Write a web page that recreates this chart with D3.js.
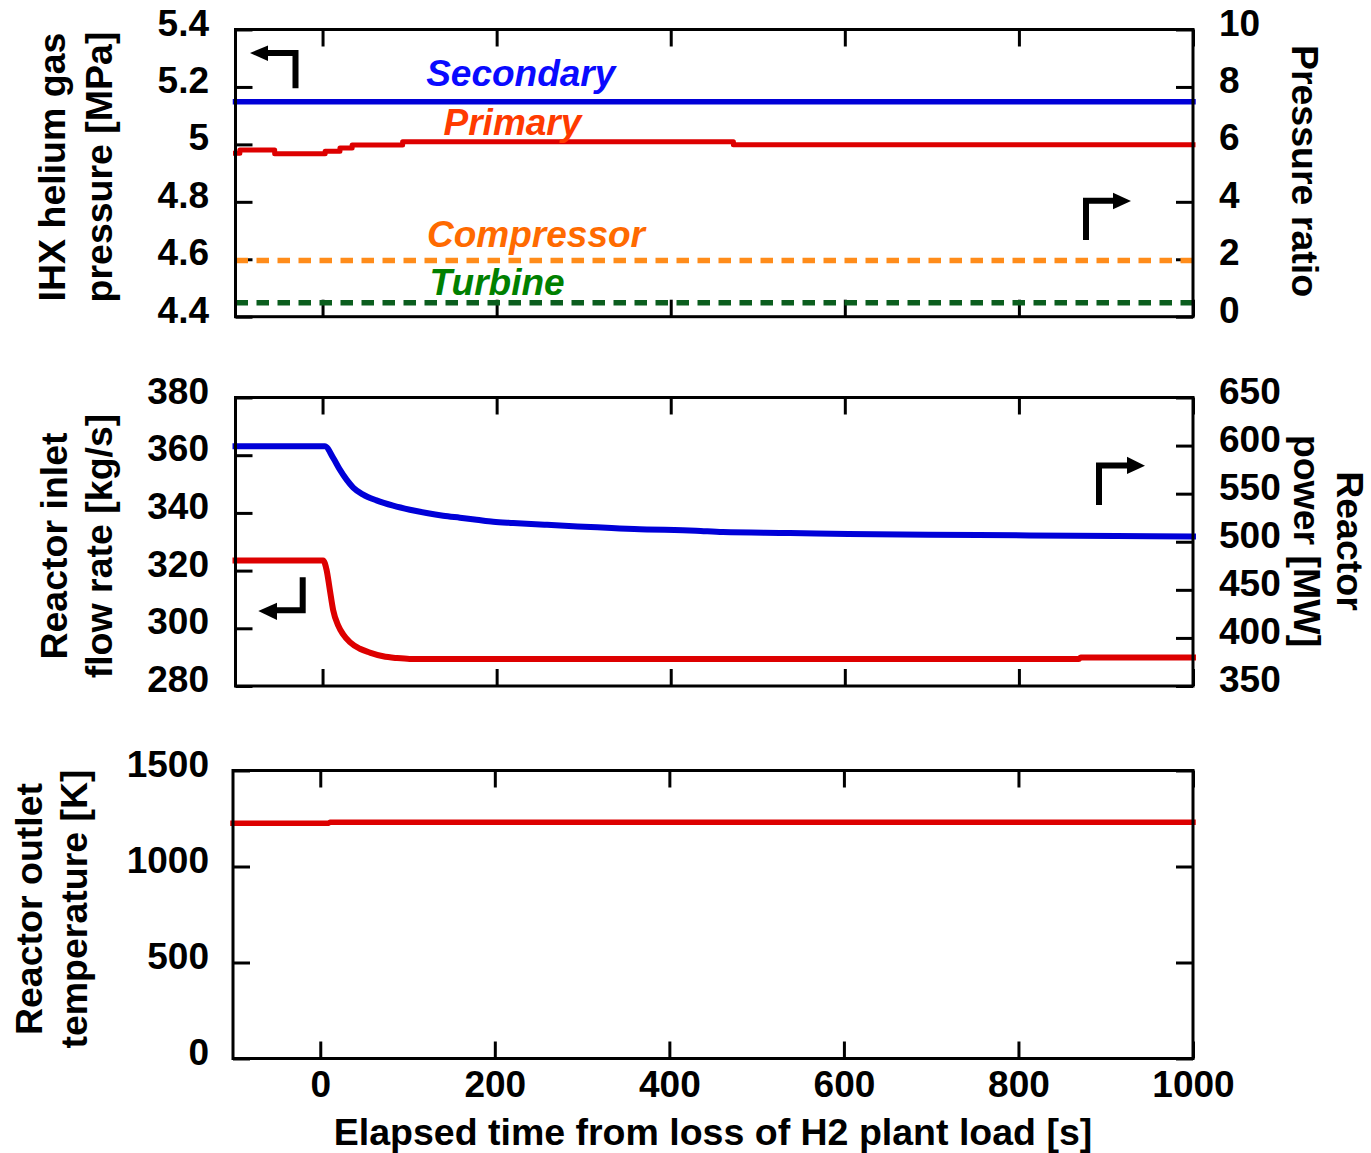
<!DOCTYPE html>
<html>
<head>
<meta charset="utf-8">
<script src="https://cdn.jsdelivr.net/npm/d3@7"></script>
<style>
  body { margin: 0; background: #fff; }
  text { font-family: "Liberation Sans", Arial, sans-serif; font-weight: bold; }
</style>
</head>
<body>
<div id="plot"></div>
<script>
// overall size
const width = 1371;
const height = 1153;

// ---- data ----
const xTicks = [0, 200, 400, 600, 800, 1000];

// panel 1: IHX helium pressure [MPa] (left) and pressure ratio (right)
const secondaryTime = [-100, 1000];
const secondaryP = [5.148, 5.148];
const primaryTime = [-100, -95, -55, 3, 20, 34, 92, 472, 1000];
const primaryP = [4.969, 4.980, 4.967, 4.976, 4.987, 4.998, 5.009, 4.999, 4.999];
const compressorTime = [-100, 1000];
const compressorRatio = [1.96, 1.96];
const turbineTime = [-100, 1000];
const turbineRatio = [0.49, 0.49];
const pressTicks = [4.4, 4.6, 4.8, 5, 5.2, 5.4];
const ratioTicks = [0, 2, 4, 6, 8, 10];

// panel 2: reactor inlet flow rate [kg/s] (left) and reactor power [MW] (right)
const flowTime = [-100, 0.7, 4.6, 8.4, 12.2, 17.9, 23.7, 31.4, 42.9, 54.3, 69.6, 85, 100, 869, 871, 1000];
const flowRate = [323.5, 323.5, 320.3, 313.3, 306.3, 301.0, 297.9, 295.2, 292.9, 291.6, 290.3, 289.7, 289.4, 289.4, 289.9, 289.9];
const powerTime = [-100, 2.6, 12.2, 19.9, 27.6, 35.2, 46.7, 62, 81.1, 100.3, 119.5, 138.6, 157.8, 177, 196, 219, 255, 293, 332, 358, 429, 460, 537, 604, 753, 912, 1000];
const power = [599.3, 599.3, 587.2, 575, 564.6, 556.4, 549, 543, 537.5, 533.3, 529.9, 527.1, 525, 522.9, 520.8, 519.5, 517.7, 515.9, 514.3, 513.2, 511.5, 510.1, 509.1, 508, 507, 505.9, 505.5];
const flowTicks = [280, 300, 320, 340, 360, 380];
const powerTicks = [350, 400, 450, 500, 550, 600, 650];

// panel 3: reactor outlet temperature [K]
const tempTime = [-100, 9, 11, 1000];
const temp = [1225, 1225, 1230, 1230];
const tempTicks = [0, 500, 1000, 1500];

const zip = (xs, ys) => xs.map((x, i) => [x, ys[i]]);

const svg = d3.select("div#plot")
  .append("svg")
    .attr("width", width)
    .attr("height", height);

svg.append("rect")
    .attr("width", width)
    .attr("height", height)
    .attr("fill", "white");

const tickLen = 17;
const tickFont = 37;
const titleFont = 37.5;

// draws the ticks and labels of one panel, returns its scales
function panel(box, leftDomain, leftTicks, rightDomain, rightTicks, showRightLabels, showXLabels) {
  const x = d3.scaleLinear().domain([-100, 1000]).range([box.left, box.right]);
  const yL = d3.scaleLinear().domain(leftDomain).range([box.bottom, box.top]);
  const yR = d3.scaleLinear().domain(rightDomain).range([box.bottom, box.top]);

  const styleAxis = g => {
    g.select(".domain").remove();
    g.selectAll(".tick line").attr("stroke", "black").attr("stroke-width", 3);
    g.selectAll(".tick text")
      .attr("fill", "black")
      .style("font-size", tickFont + "px")
      .style("font-family", '"Liberation Sans", Arial, sans-serif')
      .style("font-weight", "bold");
  };

  svg.append("g")
      .attr("transform", `translate(${box.left},0)`)
      .call(d3.axisLeft(yL).tickValues(leftTicks).tickSizeInner(-tickLen).tickSizeOuter(0)
        .tickPadding(box.left - 209).tickFormat(d3.format("")))
      .call(styleAxis)
      .selectAll(".tick text").attr("dy", "0.15em");

  svg.append("g")
      .attr("transform", `translate(${box.right},0)`)
      .call(d3.axisRight(yR).tickValues(rightTicks).tickSizeInner(-tickLen).tickSizeOuter(0)
        .tickPadding(1219 - box.right).tickFormat(showRightLabels ? d3.format("") : () => ""))
      .call(styleAxis)
      .selectAll(".tick text").attr("dy", "0.15em");

  svg.append("g")
      .attr("transform", `translate(0,${box.top})`)
      .call(d3.axisTop(x).tickValues(xTicks).tickSizeInner(-tickLen).tickSizeOuter(0).tickFormat(() => ""))
      .call(styleAxis);

  svg.append("g")
      .attr("transform", `translate(0,${box.bottom})`)
      .call(d3.axisBottom(x).tickValues(xTicks).tickSizeInner(-tickLen).tickSizeOuter(0)
        .tickPadding(12).tickFormat(showXLabels ? d3.format("") : () => ""))
      .call(styleAxis);

  return {x, yL, yR};
}

function frame(box) {
  svg.append("rect")
      .attr("x", box.left).attr("y", box.top)
      .attr("width", box.right - box.left).attr("height", box.bottom - box.top)
      .attr("fill", "none").attr("stroke", "black").attr("stroke-width", 3);
}

function drawLine(data, x, y, color, w, dash, curve) {
  svg.append("path")
      .datum(data)
      .attr("d", d3.line().x(d => x(d[0])).y(d => y(d[1])).curve(curve || d3.curveLinear))
      .attr("fill", "none")
      .attr("stroke", color)
      .attr("stroke-width", w)
      .attr("stroke-linecap", dash ? "butt" : "square")
      .attr("stroke-linejoin", "round")
      .attr("stroke-dasharray", dash || null);
}

function title(lines, x0, yc, angle, gap) {
  lines.forEach((t, i) => {
    svg.append("text")
        .attr("transform", `translate(${x0 + i * gap},${yc}) rotate(${angle})`)
        .attr("text-anchor", "middle")
        .style("font-size", titleFont + "px")
        .text(t);
  });
}

function arrow(pts, head) {
  svg.append("path")
      .attr("d", d3.line()(pts))
      .attr("fill", "none").attr("stroke", "black").attr("stroke-width", 6)
      .attr("stroke-linejoin", "miter");
  svg.append("path")
      .attr("d", d3.line()(head) + "Z")
      .attr("fill", "black");
}

// ---- panel 1 ----
const box1 = {left: 235.5, right: 1193, top: 29.5, bottom: 316.7};
const p1 = panel(box1, [4.4, 5.4], pressTicks, [0, 10], ratioTicks, true, false);
drawLine(zip(compressorTime, compressorRatio), p1.x, p1.yR, "#ff8c1a", 5.5, "12.5,8.5");
drawLine(zip(turbineTime, turbineRatio), p1.x, p1.yR, "#0b5e1e", 5.5, "12.5,8.5");
drawLine(zip(secondaryTime, secondaryP), p1.x, p1.yL, "#0000d8", 5.5);
drawLine(zip(primaryTime, primaryP), p1.x, p1.yL, "#dd0000", 5, null, d3.curveStepAfter);
frame(box1);

const labels1 = [
  {text: "Secondary", t: 119, v: 5.203, axis: "L", color: "#0a0aff"},
  {text: "Primary", t: 139, v: 5.033, axis: "L", color: "#ff3a00"},
  {text: "Compressor", t: 120, v: 2.44, axis: "R", color: "#ff6a00"},
  {text: "Turbine", t: 123, v: 0.76, axis: "R", color: "#008000"}
];
svg.selectAll("text.series")
  .data(labels1)
  .join("text")
    .attr("class", "series")
    .attr("x", d => p1.x(d.t))
    .attr("y", d => d.axis === "L" ? p1.yL(d.v) : p1.yR(d.v))
    .attr("fill", d => d.color)
    .style("font-size", "37px")
    .style("font-style", "italic")
    .text(d => d.text);

arrow([[295.5, 88.3], [295.5, 53], [266, 53]], [[250, 53], [268, 45.5], [268, 61]]);
arrow([[1086, 240], [1086, 200.8], [1115, 200.8]], [[1131, 201], [1113, 192.7], [1113, 209.3]]);

title(["IHX helium gas", "pressure [MPa]"], 65, 167, -90, 46.5);
title(["Pressure ratio"], 1292, 171, 90, 0);

// ---- panel 2 ----
const box2 = {left: 235.5, right: 1193, top: 397.5, bottom: 686};
const p2 = panel(box2, [280, 380], flowTicks, [350, 650], powerTicks, true, false);
drawLine(zip(powerTime, power), p2.x, p2.yR, "#0000d8", 6, null, d3.curveMonotoneX);
drawLine(zip(flowTime, flowRate), p2.x, p2.yL, "#dd0000", 6, null, d3.curveMonotoneX);
frame(box2);

arrow([[1099, 505], [1099, 465.5], [1128, 465.5]], [[1145, 465.7], [1127, 456.7], [1127, 474]]);
arrow([[302.7, 577.3], [302.7, 610.3], [277, 610.3]], [[258.3, 611], [277, 602.7], [277, 620]]);

title(["Reactor inlet", "flow rate [kg/s]"], 66.5, 546, -90, 45.5);
title(["Reactor", "power [MW]"], 1337, 541, 90, -43);

// ---- panel 3 ----
const box3 = {left: 233, right: 1193, top: 770.5, bottom: 1058.5};
const p3 = panel(box3, [0, 1500], tempTicks, [0, 1500], tempTicks, false, true);
drawLine(zip(tempTime, temp), p3.x, p3.yL, "#dd0000", 5.5);
frame(box3);

title(["Reactor outlet", "temperature [K]"], 41.5, 909, -90, 45.5);

svg.append("text")
    .attr("x", (box3.left + box3.right) / 2)
    .attr("y", 1145)
    .attr("text-anchor", "middle")
    .style("font-size", titleFont + "px")
    .text("Elapsed time from loss of H2 plant load [s]");
</script>
</body>
</html>
